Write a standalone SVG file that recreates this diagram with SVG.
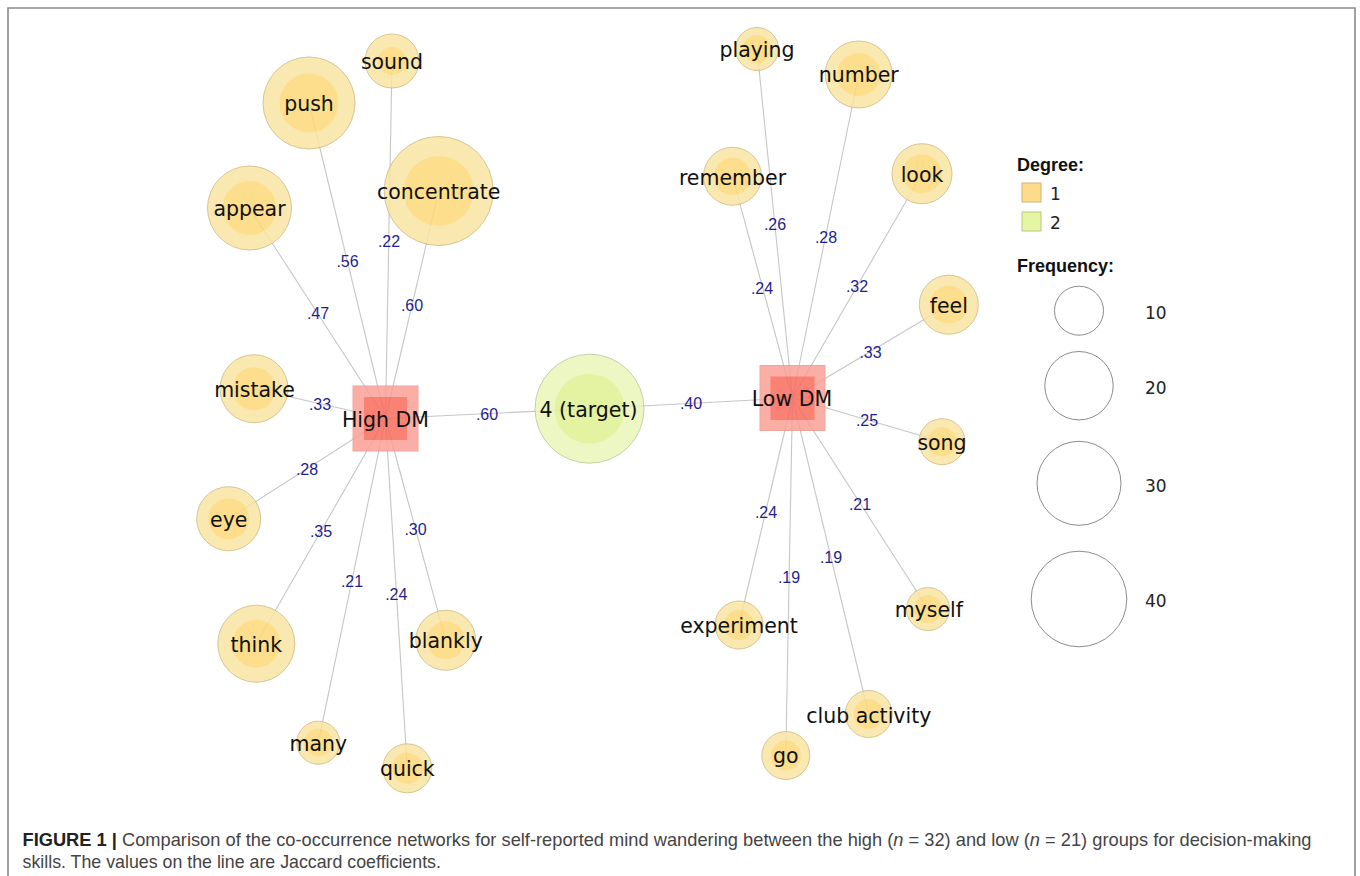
<svg xmlns="http://www.w3.org/2000/svg" width="1360" height="876" viewBox="0 0 1360 876">
<style>
.bg{fill:#ffffff}
.frame{fill:none;stroke:#8a8a8a;stroke-width:1.6}
.edge{stroke:#c6c6c6;stroke-width:1.1;fill:none}
.nd{opacity:0.85}
.o1{fill:#fae4a4;stroke:#cdb478;stroke-width:0.9}
.i1{fill:#fdd978}
.o2{fill:#ebf6ba;stroke:#b9c38c;stroke-width:0.9}
.i2{fill:#dff192}
.oh{fill:#faa096;stroke:#eb9a90;stroke-width:1}
.ih{fill:#f86d5e}
.lbl{font-family:"DejaVu Sans",sans-serif;font-size:20.5px;fill:#111;text-anchor:middle}
.el{font-family:"Liberation Sans",Arial,sans-serif;font-size:16px;fill:#1f1f8f;text-anchor:middle}
.lgh{font-family:"Liberation Sans",Arial,sans-serif;font-size:18px;font-weight:bold;fill:#111}
.lgt{font-family:"DejaVu Sans",sans-serif;font-size:17px;fill:#222}
.lgc{fill:none;stroke:#8c8c8c;stroke-width:1}
.cap{font-family:"Liberation Sans",Arial,sans-serif;font-size:17.8px;fill:#444}
.capb{font-weight:bold;fill:#222}
</style>
<rect class="bg" x="0" y="0" width="1360" height="876"/>
<path class="frame" d="M8,876 V8 H1355 V876"/>

<g id="connectors">
  <line class="edge" x1="385.5" y1="418.5" x2="309" y2="103"/>
  <line class="edge" x1="385.5" y1="418.5" x2="392" y2="61"/>
  <line class="edge" x1="385.5" y1="418.5" x2="438.7" y2="191"/>
  <line class="edge" x1="385.5" y1="418.5" x2="249.5" y2="208"/>
  <line class="edge" x1="385.5" y1="418.5" x2="254" y2="388.7"/>
  <line class="edge" x1="385.5" y1="418.5" x2="228.7" y2="518.7"/>
  <line class="edge" x1="385.5" y1="418.5" x2="256.3" y2="643.7"/>
  <line class="edge" x1="385.5" y1="418.5" x2="318.3" y2="742.7"/>
  <line class="edge" x1="385.5" y1="418.5" x2="407.3" y2="768.3"/>
  <line class="edge" x1="385.5" y1="418.5" x2="445.8" y2="640.3"/>
  <line class="edge" x1="385.5" y1="418.5" x2="589.5" y2="408.7"/>
  <line class="edge" x1="792.5" y1="398" x2="589.5" y2="408.7"/>
  <line class="edge" x1="792.5" y1="398" x2="757" y2="49"/>
  <line class="edge" x1="792.5" y1="398" x2="858.7" y2="74.5"/>
  <line class="edge" x1="792.5" y1="398" x2="732.5" y2="176.3"/>
  <line class="edge" x1="792.5" y1="398" x2="922" y2="173.7"/>
  <line class="edge" x1="792.5" y1="398" x2="948.8" y2="304.7"/>
  <line class="edge" x1="792.5" y1="398" x2="942" y2="441.7"/>
  <line class="edge" x1="792.5" y1="398" x2="928" y2="609"/>
  <line class="edge" x1="792.5" y1="398" x2="739" y2="625"/>
  <line class="edge" x1="792.5" y1="398" x2="868.7" y2="714"/>
  <line class="edge" x1="792.5" y1="398" x2="785.8" y2="755.5"/>
  <text class="el" x="347.5" y="267">.56</text>
  <text class="el" x="389" y="246.5">.22</text>
  <text class="el" x="318" y="319">.47</text>
  <text class="el" x="412" y="311">.60</text>
  <text class="el" x="320" y="409.5">.33</text>
  <text class="el" x="487" y="419.5">.60</text>
  <text class="el" x="307" y="474.5">.28</text>
  <text class="el" x="321" y="536.5">.35</text>
  <text class="el" x="415.5" y="535">.30</text>
  <text class="el" x="352" y="586.5">.21</text>
  <text class="el" x="396.3" y="599.5">.24</text>
  <text class="el" x="691" y="409">.40</text>
  <text class="el" x="775" y="230">.26</text>
  <text class="el" x="826" y="242.5">.28</text>
  <text class="el" x="762" y="293.5">.24</text>
  <text class="el" x="857" y="291.5">.32</text>
  <text class="el" x="870.5" y="357.5">.33</text>
  <text class="el" x="867" y="426">.25</text>
  <text class="el" x="860" y="510">.21</text>
  <text class="el" x="766" y="517.5">.24</text>
  <text class="el" x="831" y="562.5">.19</text>
  <text class="el" x="789" y="582.5">.19</text>
</g>

<g id="node-push"><g class="nd"><circle class="o1" cx="309" cy="103" r="46"/><circle class="i1" cx="309" cy="103" r="29.5"/></g><text class="lbl" x="309" y="111">push</text></g>
<g id="node-sound"><g class="nd"><circle class="o1" cx="392" cy="61" r="27"/><circle class="i1" cx="392" cy="61" r="14"/></g><text class="lbl" x="392" y="69">sound</text></g>
<g id="node-concentrate"><g class="nd"><circle class="o1" cx="438.7" cy="191" r="54.5"/><circle class="i1" cx="438.7" cy="191" r="35"/></g><text class="lbl" x="438.7" y="199">concentrate</text></g>
<g id="node-appear"><g class="nd"><circle class="o1" cx="249.5" cy="208" r="42"/><circle class="i1" cx="249.5" cy="208" r="27"/></g><text class="lbl" x="249.5" y="215.5">appear</text></g>
<g id="node-mistake"><g class="nd"><circle class="o1" cx="254" cy="388.7" r="34"/><circle class="i1" cx="254" cy="388.7" r="21.5"/></g><text class="lbl" x="254.5" y="396.5">mistake</text></g>
<g id="node-eye"><g class="nd"><circle class="o1" cx="228.7" cy="518.7" r="32"/><circle class="i1" cx="228.7" cy="518.7" r="20.5"/></g><text class="lbl" x="228.7" y="526.5">eye</text></g>
<g id="node-think"><g class="nd"><circle class="o1" cx="256.3" cy="643.7" r="38.5"/><circle class="i1" cx="256.3" cy="643.7" r="24"/></g><text class="lbl" x="256.3" y="651.5">think</text></g>
<g id="node-many"><g class="nd"><circle class="o1" cx="318.3" cy="742.7" r="21.5"/><circle class="i1" cx="318.3" cy="742.7" r="14"/></g><text class="lbl" x="318.3" y="750.5">many</text></g>
<g id="node-quick"><g class="nd"><circle class="o1" cx="407.3" cy="768.3" r="24.5"/><circle class="i1" cx="407.3" cy="768.3" r="15.5"/></g><text class="lbl" x="407.3" y="776">quick</text></g>
<g id="node-blankly"><g class="nd"><circle class="o1" cx="445.8" cy="640.3" r="30"/><circle class="i1" cx="445.8" cy="640.3" r="19"/></g><text class="lbl" x="445.8" y="648">blankly</text></g>
<g id="node-highdm"><g class="nd"><rect class="oh" x="353" y="386" width="65" height="65"/><rect class="ih" x="364" y="397" width="43" height="43"/></g><text class="lbl" x="385.5" y="427">High DM</text></g>
<g id="node-target"><g class="nd"><circle class="o2" cx="589.5" cy="408.7" r="54.5"/><circle class="i2" cx="589.5" cy="408.7" r="35"/></g><text class="lbl" x="588.5" y="417">4 (target)</text></g>
<g id="node-lowdm"><g class="nd"><rect class="oh" x="760" y="365.5" width="65" height="65"/><rect class="ih" x="770.5" y="376.5" width="44" height="43.5"/></g><text class="lbl" x="792" y="405.5">Low DM</text></g>
<g id="node-playing"><g class="nd"><circle class="o1" cx="757" cy="49" r="21.5"/><circle class="i1" cx="757" cy="49" r="14"/></g><text class="lbl" x="757" y="57">playing</text></g>
<g id="node-number"><g class="nd"><circle class="o1" cx="858.7" cy="74.5" r="33.5"/><circle class="i1" cx="858.7" cy="74.5" r="21.5"/></g><text class="lbl" x="858.7" y="82">number</text></g>
<g id="node-remember"><g class="nd"><circle class="o1" cx="732.5" cy="176.3" r="29"/><circle class="i1" cx="732.5" cy="176.3" r="18.5"/></g><text class="lbl" x="732.5" y="184.5">remember</text></g>
<g id="node-look"><g class="nd"><circle class="o1" cx="922" cy="173.7" r="30"/><circle class="i1" cx="922" cy="173.7" r="19.5"/></g><text class="lbl" x="922" y="181.5">look</text></g>
<g id="node-feel"><g class="nd"><circle class="o1" cx="948.8" cy="304.7" r="29.5"/><circle class="i1" cx="948.8" cy="304.7" r="19"/></g><text class="lbl" x="948.8" y="312.5">feel</text></g>
<g id="node-song"><g class="nd"><circle class="o1" cx="942" cy="441.7" r="23"/><circle class="i1" cx="942" cy="441.7" r="14.5"/></g><text class="lbl" x="942" y="449.5">song</text></g>
<g id="node-myself"><g class="nd"><circle class="o1" cx="928" cy="609" r="21.5"/><circle class="i1" cx="928" cy="609" r="14"/></g><text class="lbl" x="928.8" y="616.5">myself</text></g>
<g id="node-experiment"><g class="nd"><circle class="o1" cx="739" cy="625" r="24"/><circle class="i1" cx="739" cy="625" r="15"/></g><text class="lbl" x="739" y="632.5">experiment</text></g>
<g id="node-clubactivity"><g class="nd"><circle class="o1" cx="868.7" cy="714" r="23.5"/><circle class="i1" cx="868.7" cy="714" r="15"/></g><text class="lbl" x="868.8" y="722.5">club activity</text></g>
<g id="node-go"><g class="nd"><circle class="o1" cx="785.8" cy="755.5" r="24"/><circle class="i1" cx="785.8" cy="755.5" r="15"/></g><text class="lbl" x="785.8" y="762.5">go</text></g>

<g id="legend">
  <text class="lgh" x="1017" y="171">Degree:</text>
  <rect x="1022" y="183" width="19" height="19" fill="#fddb8a" stroke="#c8b072" stroke-width="0.9"/>
  <text class="lgt" x="1050" y="200">1</text>
  <rect x="1022" y="212" width="19" height="19" fill="#e4f5a4" stroke="#b5c07c" stroke-width="0.9"/>
  <text class="lgt" x="1050" y="228.5">2</text>
  <text class="lgh" x="1017" y="272">Frequency:</text>
  <circle class="lgc" cx="1079" cy="310.7" r="24.5"/>
  <text class="lgt" x="1145" y="319">10</text>
  <circle class="lgc" cx="1079" cy="385.7" r="34.2"/>
  <text class="lgt" x="1145" y="394">20</text>
  <circle class="lgc" cx="1079" cy="483.3" r="42"/>
  <text class="lgt" x="1145" y="491.5">30</text>
  <circle class="lgc" cx="1079" cy="599" r="47.8"/>
  <text class="lgt" x="1145" y="606.5">40</text>
</g>

<g id="caption">
  <text class="cap" x="22.5" y="846" textLength="1289" lengthAdjust="spacingAndGlyphs"><tspan class="capb">FIGURE 1 |</tspan> Comparison of the co-occurrence networks for self-reported mind wandering between the high (<tspan font-style="italic">n</tspan> = 32) and low (<tspan font-style="italic">n</tspan> = 21) groups for decision-making</text>
  <text class="cap" x="22.5" y="868">skills. The values on the line are Jaccard coefficients.</text>
</g>
</svg>
